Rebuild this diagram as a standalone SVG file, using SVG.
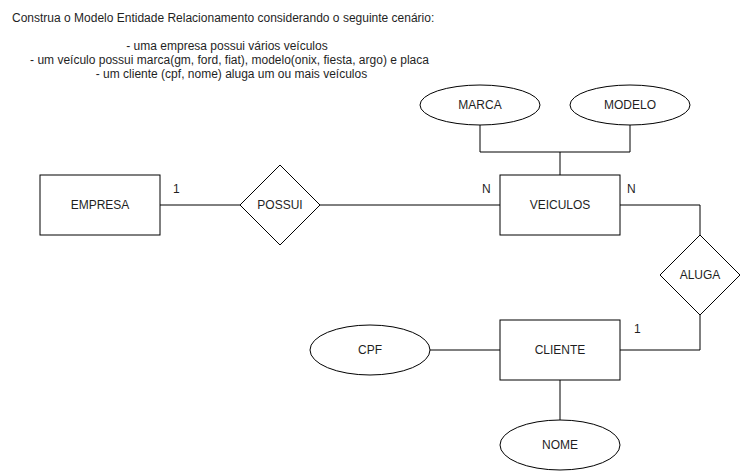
<svg xmlns="http://www.w3.org/2000/svg" width="741" height="471" viewBox="0 0 741 471">
<style>
.shape{fill:#ffffff;stroke:#000000;stroke-width:1}
.edge{fill:none;stroke:#000000;stroke-width:1}
text{font-family:"Liberation Sans",Arial,Helvetica,sans-serif;font-size:12px;fill:#1f1f1f}
.lbl{text-anchor:middle}
</style>
<rect x="0" y="0" width="741" height="471" fill="#ffffff"/>
<g id="header">
<text x="12" y="22">Construa o Modelo Entidade Relacionamento considerando o seguinte cenário:</text>
<text x="227" y="50" class="lbl">- uma empresa possui vários veículos</text>
<text x="229.5" y="64" class="lbl">- um veículo possui marca(gm, ford, fiat), modelo(onix, fiesta, argo) e placa</text>
<text x="231.5" y="78" class="lbl">- um cliente (cpf, nome) aluga um ou mais veículos</text>
</g>
<g id="connectors">
<path class="edge" d="M160 205 H240"/>
<path class="edge" d="M320 205 H500"/>
<path class="edge" d="M480 125 V152 H630 V125"/>
<path class="edge" d="M560 152 V175"/>
<path class="edge" d="M620 205 H700 V235"/>
<path class="edge" d="M700 315 V350 H620"/>
<path class="edge" d="M430 350 H500"/>
<path class="edge" d="M560 380 V420"/>
<text x="173" y="193">1</text>
<text x="482" y="193">N</text>
<text x="627" y="193">N</text>
<text x="634" y="333">1</text>
</g>
<g id="empresa">
<rect class="shape" x="40" y="175" width="120" height="60"/>
<text class="lbl" x="100" y="209">EMPRESA</text>
</g>
<g id="possui">
<polygon class="shape" points="280,165 320,205 280,245 240,205"/>
<text class="lbl" x="280" y="209">POSSUI</text>
</g>
<g id="veiculos">
<rect class="shape" x="500" y="175" width="120" height="60"/>
<text class="lbl" x="560" y="209">VEICULOS</text>
</g>
<g id="marca">
<ellipse class="shape" cx="480" cy="105" rx="60" ry="20"/>
<text class="lbl" x="480" y="109">MARCA</text>
</g>
<g id="modelo">
<ellipse class="shape" cx="630" cy="105" rx="60" ry="20"/>
<text class="lbl" x="630" y="109">MODELO</text>
</g>
<g id="aluga">
<polygon class="shape" points="700,235 740,275 700,315 660,275"/>
<text class="lbl" x="700" y="279">ALUGA</text>
</g>
<g id="cliente">
<rect class="shape" x="500" y="320" width="120" height="60"/>
<text class="lbl" x="560" y="354">CLIENTE</text>
</g>
<g id="cpf">
<ellipse class="shape" cx="370" cy="350" rx="60" ry="25"/>
<text class="lbl" x="370" y="354">CPF</text>
</g>
<g id="nome">
<ellipse class="shape" cx="560" cy="445" rx="60" ry="25"/>
<text class="lbl" x="560" y="449">NOME</text>
</g>
</svg>
